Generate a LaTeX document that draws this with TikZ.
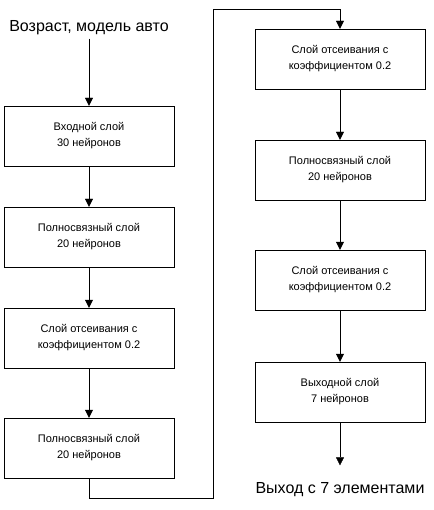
\documentclass[tikz,border=0pt]{standalone}
\usepackage{fontspec}
\setmainfont{Liberation Sans}
\usetikzlibrary{arrows.meta}
\tikzset{
  layer/.style={draw, minimum width=170pt, minimum height=60pt, inner sep=0pt,
    align=center, font=\fontsize{11}{16}\selectfont},
  label/.style={font=\fontsize{16}{19}\selectfont},
  conn/.style={-{Triangle[length=8pt,width=8pt]}}
}
\begin{document}
\begin{tikzpicture}[x=1pt,y=-1pt]
  \useasboundingbox (0,0) rectangle (433,510);
  \node[label] (in) at (89,28) {Возраст, модель авто};
  % left column
  \node[layer] (l1) at (89,136) {Входной слой\\30 нейронов};
  \node[layer] (l2) at (89,237) {Полносвязный слой\\20 нейронов};
  \node[layer] (l3) at (89,338) {Слой отсеивания с\\коэффициентом 0.2};
  \node[layer] (l4) at (89,448) {Полносвязный слой\\20 нейронов};
  % right column
  \node[layer] (r1) at (340,59) {Слой отсеивания с\\коэффициентом 0.2};
  \node[layer] (r2) at (340,170) {Полносвязный слой\\20 нейронов};
  \node[layer] (r3) at (340,280) {Слой отсеивания с\\коэффициентом 0.2};
  \node[layer] (r4) at (340,392) {Выходной слой\\7 нейронов};
  \node[label] (out) at (340,490) {Выход с 7 элементами};
  \coordinate (down) at (89,498);
  \coordinate (up) at (213,9);
  \draw[conn] (in) -- (l1);
  \foreach \a/\b in {l1/l2, l2/l3, l3/l4, r1/r2, r2/r3, r3/r4}
    \draw[conn] (\a) -- (\b);
  \draw[conn] (l4) -- (down) -| (up) -| (r1);
  \draw[conn, shorten >=14pt] (r4) -- (out);
\end{tikzpicture}
\end{document}
